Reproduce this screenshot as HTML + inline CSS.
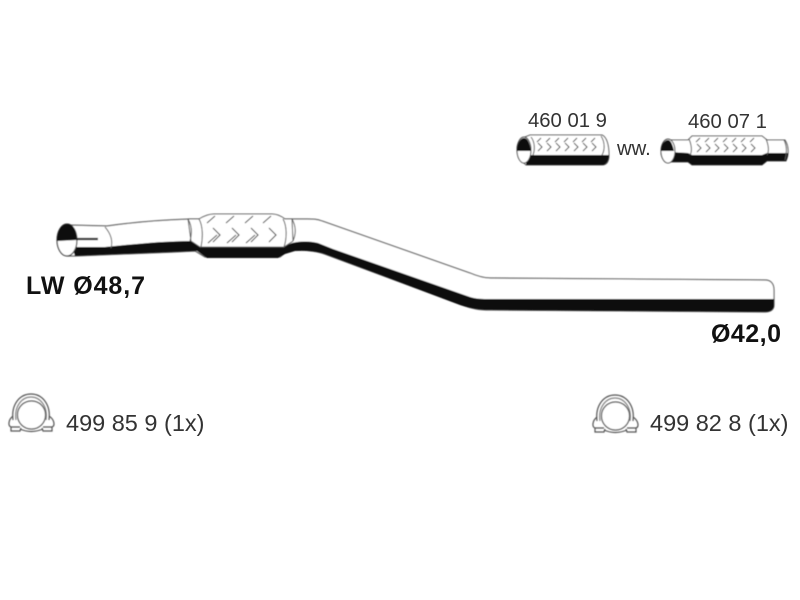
<!DOCTYPE html>
<html><head><meta charset="utf-8"><style>
html,body{margin:0;padding:0;background:#fff;width:800px;height:600px;overflow:hidden}
svg{display:block}
text{font-family:"Liberation Sans",sans-serif;fill:#2a2a2a}
.b{font-weight:bold;fill:#111;font-size:25px}
.n{font-size:23.5px;fill:#333}
.s{font-size:20.3px;fill:#333}
</style></head><body>
<svg width="800" height="600" viewBox="0 0 800 600" xmlns="http://www.w3.org/2000/svg">
<defs><filter id="f" x="-5%" y="-5%" width="110%" height="110%"><feGaussianBlur stdDeviation="0.55"/></filter>
<g id="clamp" fill="none" stroke="#555" stroke-width="1.2">
<path d="M13 420 C11 404 20 394 31 394 C42 394 51 404 49 420"/>
<path d="M16 420 C14 406 22 397 31 397 C40 397 48 406 46 420" stroke="#888"/>
<circle cx="31.5" cy="415" r="14" fill="#fff"/>
<path d="M13 416 C8 420 8 426 11 427 L11 431 L20 431 L21 428 M49 416 C55 420 55 426 52 427 L52 431 L43 431 L42 428"/>
<path d="M11 427 L20 427 M43 427 L52 427 M20 429 Q31 434 43 429"/>
</g></defs>
<g filter="url(#f)">
<!-- main pipe body -->
<path d="M68 225 L107 226 C135 222 160 220 190 219 L290 219 L308 219 C313 219 317 219 322 221 L470 273 C477 276 483 278 490 278 L765 280 C771 280 774 284 774 290 L774 305 C774 310 770 312 765 312 L490 310 C480 310 472 309 462 305 L327 255 C320 252 308 250 295 250 L285 253 L280 257 L205 257 L195 251 L175 252 L75 256 L68 256 Z" fill="#fff" stroke="#666" stroke-width="1.2"/>
<!-- black shadow band -->
<path d="M72 247 L105 247 C135 244 165 241 192 241 L200 247 L282 247 L292 243 C300 241 310 241 318 243 L333 249 L470 297 C476 299 482 299 490 299 L774 299 L774 305 C774 310 770 312 765 312 L490 310 C480 310 472 309 460 305 L327 255 C320 252 308 250 295 251 L285 254 L278 258 L207 258 L197 251 L175 252 L75 256 Z" fill="#0a0a0a"/>
<!-- inlet -->
<ellipse cx="67" cy="240" rx="10" ry="16" fill="#fff" stroke="#444" stroke-width="1.2"/>
<path d="M57 241 A10 16 0 0 1 67 224 C73 224 76 230 77 240 L57 241 Z" fill="#111"/>
<path d="M76 239 L98 239" stroke="#222" stroke-width="2.2"/>
<path d="M105 227 C111 234 113 241 111 248" fill="none" stroke="#666" stroke-width="1"/>
<!-- flex section -->
<path d="M188 219 L199 219 C204 216 210 214 214 214 L272 214 C277 214 281 216 285 219 L292 219 L293 241 L284 247 L200 247 L191 241 Z" fill="#fff" stroke="#555" stroke-width="1"/>
<path d="M188 219 C192 226 192 234 190 241 M199 219 C203 226 203 238 201 247 M283 219 C287 226 287 238 284 247 M292 219 C296 226 296 234 293 241" fill="none" stroke="#555" stroke-width="1"/>
<g fill="none" stroke="#444" stroke-width="1.1">
<path d="M207 223 L215 216 M226 223 L234 216 M245 223 L253 216 M263 223 L271 216"/>
<path d="M213 228 L220 235 L213 242 M232 228 L239 235 L232 242 M251 228 L258 235 L251 242 M269 228 L276 235 L269 242"/>
<path d="M208 243 L217 235 M227 243 L236 235 M246 243 L255 235"/>
</g>
<!-- part 460 01 9 -->
<g>
<path d="M525 137 L530 135 L602 135 C607 137 609 146 609 155 C609 161 607 165 602 165 L526 165 C520 160 517 155 517 149 C517 143 520 138 525 137 Z" fill="#fff" stroke="#555" stroke-width="1"/>
<path d="M526 155 L609 155 C609 161 606 165 602 165 L526 165 Z" fill="#0a0a0a"/>
<ellipse cx="524" cy="150" rx="7" ry="13" fill="#fff" stroke="#444"/>
<path d="M517 151 A7 13 0 0 1 524 138 C528 138 530 144 531 151 Z" fill="#111"/>
<path d="M531 137 C535 142 535 150 533 155 M601 136 C605 142 605 150 602 155" fill="none" stroke="#555"/>
<path d="M537 142 L541 138 M546 142 L550 138 M555 142 L559 138 M564 142 L568 138 M573 142 L577 138 M582 142 L586 138 M591 142 L595 138 M538 143 L542 147 L538 151 M547 143 L551 147 L547 151 M556 143 L560 147 L556 151 M565 143 L569 147 L565 151 M574 143 L578 147 L574 151 M583 143 L587 147 L583 151 M592 143 L596 147 L592 151" fill="none" stroke="#444" stroke-width="1"/>
</g>
<!-- part 460 07 1 -->
<g>
<path d="M667 140 L688 140 L692 136 L762 136 L767 140 L785 140 C789 146 789 155 786 161 L767 161 L762 165 L692 165 L688 162 L667 162 C659 158 659 146 667 140 Z" fill="#fff" stroke="#555" stroke-width="1"/>
<path d="M670 152 L688 153 L692 155 L762 155 L767 153 L788 153 C788 157 787 159 786 161 L767 161 L762 165 L692 165 L688 162 L670 162 Z" fill="#0a0a0a"/>
<ellipse cx="668" cy="151" rx="7" ry="12" fill="#fff" stroke="#444"/>
<path d="M661 151 A7 11 0 0 1 668 140 C671 140 673 146 674 151 Z" fill="#111"/>
<path d="M689 139 C692 146 692 152 690 155 M766 139 C769 146 769 152 767 155 M784 140 C787 146 787 153 785 160" fill="none" stroke="#555"/>
<path d="M696 142 L700 138 M705 142 L709 138 M714 142 L718 138 M723 142 L727 138 M732 142 L736 138 M741 142 L745 138 M750 142 L754 138 M697 144 L701 148 L697 152 M706 144 L710 148 L706 152 M715 144 L719 148 L715 152 M724 144 L728 148 L724 152 M733 144 L737 148 L733 152 M742 144 L746 148 L742 152 M751 144 L755 148 L751 152" fill="none" stroke="#444" stroke-width="1"/>
</g>
<use href="#clamp" x="0" y="0"/>
<use href="#clamp" x="584" y="1"/>
</g>
<text x="528" y="127" class="s">460 01 9</text>
<text x="688" y="128" class="s">460 07 1</text>
<text x="617" y="155" class="s">ww.</text>
<text x="26" y="294" class="b" textLength="119">LW Ø48,7</text>
<text x="711" y="342" class="b" textLength="70">Ø42,0</text>
<text x="66" y="431" class="n">499 85 9 (1x)</text>
<text x="650" y="431" class="n">499 82 8 (1x)</text>
</svg>
</body></html>
